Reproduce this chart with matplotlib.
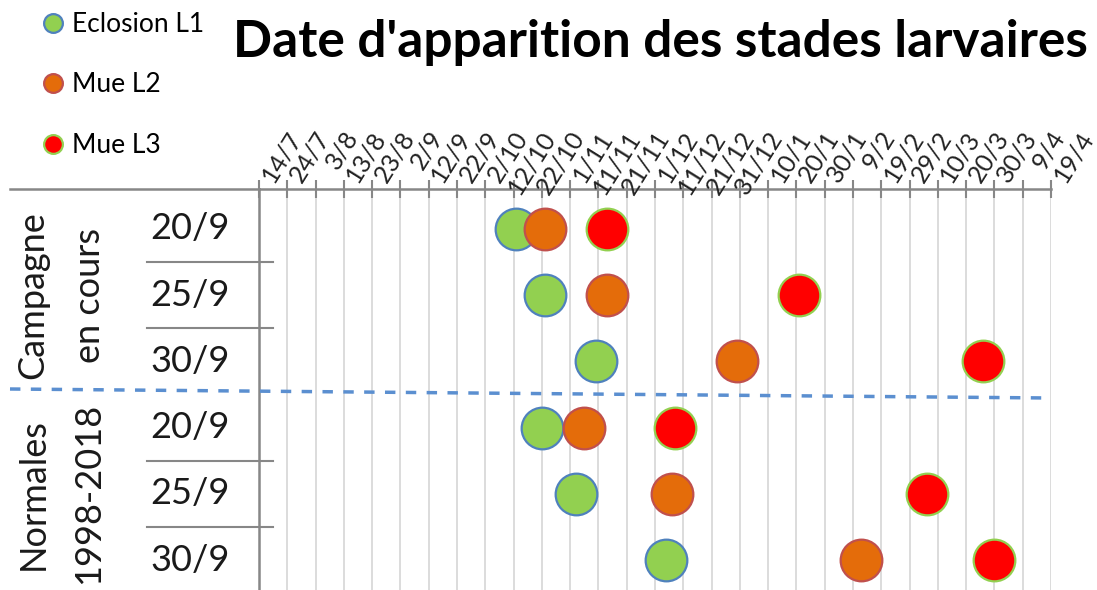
import datetime as dt
import matplotlib
matplotlib.use("Agg")
import matplotlib.pyplot as plt
import matplotlib.transforms as mtransforms
from matplotlib.lines import Line2D

# ---------------- data ----------------
tick_labels = ["14/7", "24/7", "3/8", "13/8", "23/8", "2/9", "12/9", "22/9", "2/10",
               "12/10", "22/10", "1/11", "11/11", "21/11", "1/12", "11/12", "21/12",
               "31/12", "10/1", "20/1", "30/1", "9/2", "19/2", "29/2", "10/3", "20/3",
               "30/3", "9/4", "19/4"]
row_labels = ["20/9", "25/9", "30/9", "20/9", "25/9", "30/9"]
group_campagne = ["Campagne", "en cours"]
group_normales = ["Normales", "1998-2018"]
series_names = ["Eclosion L1", "Mue L2", "Mue L3"]
eclosion_l1 = ["13/10", "23/10", "10/11", "22/10", "3/11", "5/12"]
mue_l2 = ["23/10", "14/11", "30/12", "6/11", "7/12", "12/2"]
mue_l3 = ["14/11", "21/1", "26/3", "8/12", "6/3", "30/3"]
title = "Date d'apparition des stades larvaires"

# ---------------- helpers ----------------
START = dt.date(2019, 7, 14)


def to_day(s):
    d, m = (int(v) for v in s.split("/"))
    year = 2019 if m >= 7 else 2020
    return (dt.date(year, m, d) - START).days


FONT = ["Lato", "DejaVu Sans"]
GRAY = "#878787"
GRID = "#D9D9D9"
fill_colors = ["#92D050", "#E46C0A", "#FF0000"]
edge_colors = ["#4F81BD", "#C0504D", "#92D050"]

W, H = 1097, 590
fig = plt.figure(figsize=(W / 100, H / 100), dpi=100)
ax_left, ax_right, ax_top = 259, 1051, 189
ax = fig.add_axes([ax_left / W, 0, (ax_right - ax_left) / W, (H - ax_top) / H])

tick_pos = [to_day(t) for t in tick_labels]
ax.set_xlim(tick_pos[0], tick_pos[-1])
ax.set_ylim(5.45, -0.6)

rows = list(range(len(row_labels)))
for i, (vals, fc, ec, name) in enumerate(zip([eclosion_l1, mue_l2, mue_l3],
                                             fill_colors, edge_colors, series_names)):
    ax.plot([to_day(v) for v in vals], rows, linestyle="none", marker="o",
            markersize=30, markerfacecolor=fc, markeredgecolor=ec,
            markeredgewidth=1.6, label=name, zorder=3 + i)

# axes styling
for s in ["right", "bottom"]:
    ax.spines[s].set_visible(False)
for s in ["left", "top"]:
    ax.spines[s].set_color(GRAY)
    ax.spines[s].set_linewidth(1.8)
ax.set_yticks([])
ax.xaxis.tick_top()
ax.set_xticks(tick_pos)
ax.set_xticklabels([])
ax.tick_params(axis="x", direction="inout", length=13, width=1.5, color=GRAY)
ax.grid(axis="x", color=GRID, linewidth=1.3)
ax.set_axisbelow(True)

# rotated tick labels, anchored at their end
off = mtransforms.ScaledTranslation(27 / 100, 62 / 100, fig.dpi_scale_trans)
tr = mtransforms.blended_transform_factory(ax.transData, ax.transAxes) + off
for p, lab in zip(tick_pos, tick_labels):
    ax.text(p, 1, lab, transform=tr, rotation=58, rotation_mode="anchor",
            ha="right", va="top", fontsize=18, family=FONT, color="#222222")

# left table: top line, row separators, labels
fig.add_artist(Line2D([10 / W, ax_left / W], [1 - ax_top / H] * 2, color=GRAY,
                      linewidth=1.8))
sep_tr = mtransforms.blended_transform_factory(fig.transFigure, ax.transData)
for yb in [0.5, 1.5, 3.5, 4.5]:
    fig.add_artist(Line2D([147 / W, 273 / W], [yb, yb], transform=sep_tr,
                          color=GRAY, linewidth=1.5))
lab_tr = mtransforms.blended_transform_factory(fig.transFigure, ax.transData)
for r, lab in zip(rows, row_labels):
    ax.text(190 / W, r, lab, transform=lab_tr, ha="center", va="center",
            fontsize=26, family=FONT, color="#1a1a1a")

for lines, yc in [(group_campagne, 1.0), (group_normales, 4.0)]:
    for xc, txt in zip([33, 89], lines):
        ax.text(xc / W, yc, txt, transform=lab_tr, rotation=90, ha="center",
                va="center", fontsize=26, family=FONT, color="#1a1a1a")

# dashed separator between groups
fig.add_artist(Line2D([10 / W, 1050 / W], [1 - 389 / H, 1 - 398 / H],
                      color="#5B8FD0", linewidth=2.5, linestyle=(0, (3, 3))))

# title
fig.text(660 / W, 1 - 43 / H, title, ha="center", va="center", fontsize=37,
         fontweight="bold", family=FONT, color="black")

# legend
handles, labels = ax.get_legend_handles_labels()
fig.legend(handles, labels, loc="upper left", bbox_to_anchor=(11 / W, 1 + 12 / H),
           frameon=False, markerscale=0.45, labelspacing=1.35, handletextpad=0.0,
           handlelength=1.4, prop={"family": FONT, "size": 19})

fig.savefig("out.png", dpi=100)
